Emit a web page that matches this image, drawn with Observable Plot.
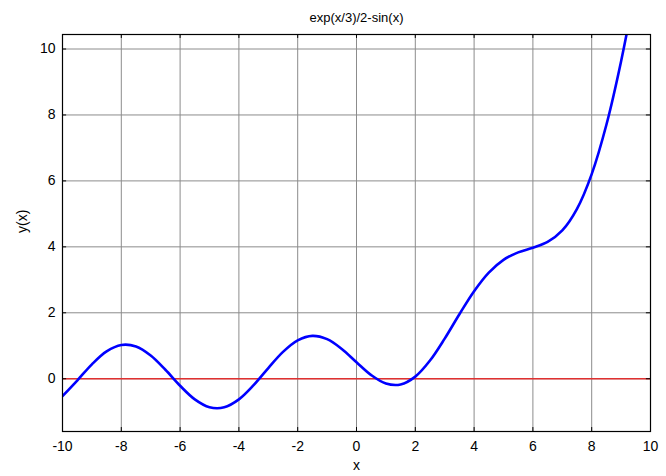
<!DOCTYPE html>
<html><head><meta charset="utf-8">
<script src="https://cdn.jsdelivr.net/npm/d3@7"></script>
<script src="https://cdn.jsdelivr.net/npm/@observablehq/plot@0.6"></script>
<style>
body{margin:0;background:#fff;}
svg{font-family:"Liberation Sans",Arial,sans-serif;}
</style>
</head><body>
<div id="chart"></div>
<script>
const titleText = "exp(x/3)/2-sin(x)";
const xLabel = "x";
const yLabel = "y(x)";
const xs = [-10,-9.5,-9,-8.5,-8,-7.5,-7,-6.5,-6,-5.5,-5,-4.5,-4,-3.5,-3,-2.5,-2,-1.5,-1,-0.5,0,0.5,1,1.5,2,2.5,3,3.5,4,4.5,5,5.5,6,6.5,7,7.5,8,8.5,9,9.5,10];
const ys = [-0.526,-0.054,0.437,0.828,1.024,0.979,0.705,0.272,-0.212,-0.626,-0.864,-0.866,-0.625,-0.195,0.325,0.816,1.166,1.301,1.200,0.903,0.500,0.111,-0.144,-0.173,0.065,0.552,1.218,1.956,2.654,3.218,3.606,3.833,3.974,4.149,4.499,5.153,6.207,7.703,9.631,11.939,14.560];
const xTicks = [-10,-8,-6,-4,-2,0,2,4,6,8,10];
const yTicks = [0,2,4,6,8,10];
const zeroLine = [0];

const data = xs.map((x,i)=>({x, y: ys[i]}));
const Y0 = -1.6, Y1 = 10.44, X0 = -10, X1 = 10;
const tyLen = 0.12, txLen = 0.14;
const fmt = d => d < 0 ? "-" + Math.abs(d) : String(d);

const chart = Plot.plot({
  width: 666, height: 476,
  marginLeft: 62, marginRight: 16, marginTop: 34, marginBottom: 45,
  style: {fontSize: "13px", fontFamily: "'Liberation Sans', Arial, sans-serif", color: "#000", background: "#fff"},
  x: {domain: [X0, X1], label: null},
  y: {domain: [Y0, Y1], label: null},
  marks: [
    Plot.ruleX(xTicks, {x: d => d, stroke: "#8c8c8c", strokeWidth: 1}),
    Plot.ruleY(yTicks, {y: d => d, stroke: "#8c8c8c", strokeWidth: 1}),
    Plot.ruleY(zeroLine, {stroke: "#e03030", strokeWidth: 1.5}),
    Plot.line(data, {x: "x", y: "y", stroke: "#0000ff", strokeWidth: 2.6, curve: "catmull-rom", clip: true}),
    // inner tick marks (bottom, top, left, right)
    Plot.ruleX(xTicks, {x: d => d, y1: Y0, y2: Y0 + tyLen, stroke: "#000"}),
    Plot.ruleX(xTicks, {x: d => d, y1: Y1, y2: Y1 - tyLen, stroke: "#000"}),
    Plot.ruleY(yTicks, {y: d => d, x1: X0, x2: X0 + txLen, stroke: "#000"}),
    Plot.ruleY(yTicks, {y: d => d, x1: X1, x2: X1 - txLen, stroke: "#000"}),
    Plot.axisX(xTicks, {tickSize: 0, tickPadding: 10, fontSize: 14, tickFormat: fmt}),
    Plot.axisY(yTicks, {tickSize: 0, tickPadding: 7, fontSize: 14, tickFormat: fmt}),
    Plot.frame({stroke: "#000", strokeWidth: 1.2}),
    Plot.text([titleText], {frameAnchor: "top", dy: -22, text: d => d, fontSize: 13, fill: "#000"}),
    Plot.text([xLabel], {frameAnchor: "bottom", dy: 38, text: d => d, fontSize: 14, fill: "#000"}),
    Plot.text([yLabel], {frameAnchor: "left", dx: -40, rotate: -90, text: d => d, fontSize: 14, fill: "#000"})
  ]
});
document.getElementById("chart").appendChild(chart);
</script>
</body></html>
